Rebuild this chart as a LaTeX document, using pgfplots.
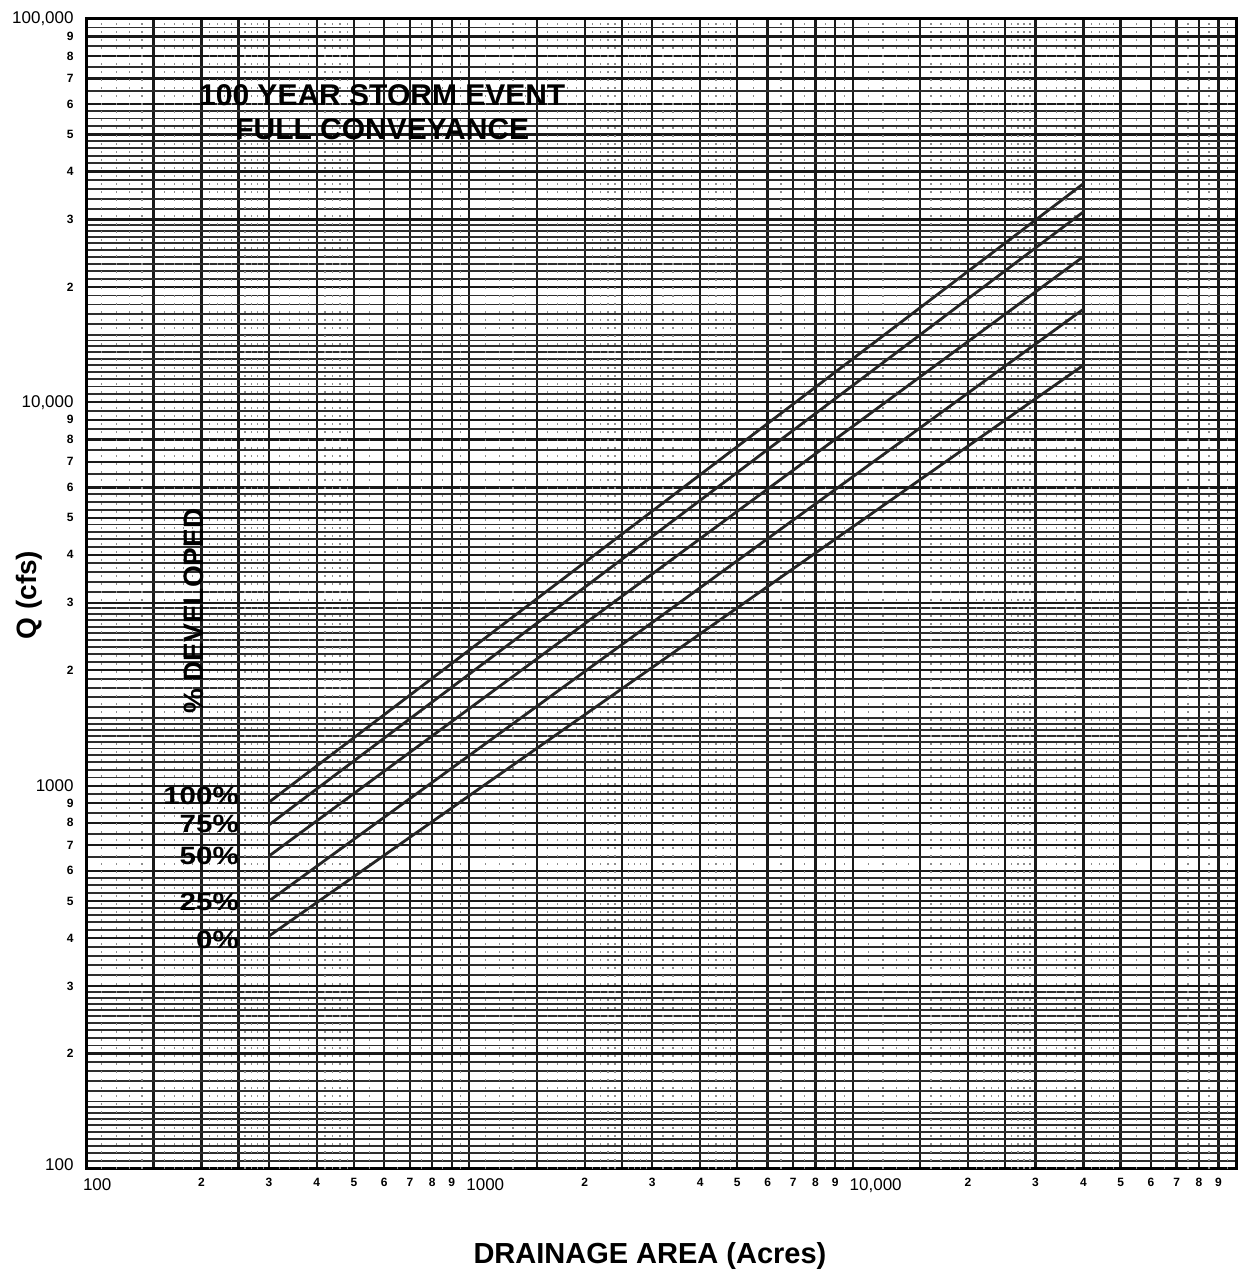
\documentclass[border=0pt]{standalone}
\usepackage{fontspec}
\setmainfont{Liberation Sans}
\usepackage{graphicx}
\usepackage{pgfplots}
\pgfplotsset{compat=1.18}
\newcommand{\bx}[1]{\makebox[0pt][l]{\hspace{-1.5pt}\mdseries\fontsize{8.5}{10}\selectfont #1}}
\newcommand{\by}[1]{{\mdseries\fontsize{8.5}{10}\selectfont #1}}
\newcommand{\pct}[1]{\scalebox{1.18}[1]{\bfseries\fontsize{12.5}{14}\selectfont #1}}
\begin{document}
\begin{tikzpicture}
\useasboundingbox (-43pt,-50.5pt) rectangle (576.5pt,584.5pt);
\begin{axis}[
  at={(0,0)}, anchor=south west,
  scale only axis, width=575pt, height=575pt,
  xmode=log, ymode=log,
  xmin=100, xmax=100000, ymin=100, ymax=100000,
  axis line style={line width=1.5pt, black},
  major tick length=0pt, minor tick length=0pt,
  xtick={100,150,200,250,300,400,500,600,700,800,900,
         1000,1500,2000,2500,3000,4000,5000,6000,7000,8000,9000,
         10000,15000,20000,25000,30000,40000,50000,60000,70000,80000,90000},
  xticklabels={{\bx{100}},{},2,{},3,4,5,6,7,8,9,
               {\bx{1000}},{},2,{},3,4,5,6,7,8,9,
               {\bx{10,000}},{},2,{},3,4,5,6,7,8,9},
  ytick={100,200,300,400,500,600,700,800,900,
         1000,2000,3000,4000,5000,6000,7000,8000,9000,
         10000,20000,30000,40000,50000,60000,70000,80000,90000,100000},
  yticklabels={{\by{\raisebox{4pt}{100}}},2,3,4,5,6,7,8,9,
               {\by{1000}},2,3,4,5,6,7,8,9,
               {\by{10,000}},2,3,4,5,6,7,8,9,
               {\by{100,000}}},
  minor xtick={},
  minor ytick={105,110,115,120,125,130,135,140,145,150,160,170,180,190,210,220,230,240,250,260,270,280,290,320,340,360,380,420,440,460,480,525,550,575,650,750,850,950,
   1050,1100,1150,1200,1250,1300,1350,1400,1450,1500,1600,1700,1800,1900,2100,2200,2300,2400,2500,2600,2700,2800,2900,3200,3400,3600,3800,4200,4400,4600,4800,5250,5500,5750,6500,7500,8500,9500,
   10500,11000,11500,12000,12500,13000,13500,14000,14500,15000,16000,17000,18000,19000,21000,22000,23000,24000,25000,26000,27000,28000,29000,32000,34000,36000,38000,42000,44000,46000,48000,52500,55000,57500,65000,75000,85000,95000},
  xmajorgrids=true, ymajorgrids=true, yminorgrids=true, xminorgrids=false,
  major grid style={line width=1.15pt, black!90},
  minor grid style={line width=0.95pt, black!82},
  extra x ticks={110,120,130,140,160,170,180,190,210,220,230,240,260,270,280,290,320,340,360,380,420,440,460,480,550,650,750,850,950,
   1100,1200,1300,1400,1600,1700,1800,1900,2100,2200,2300,2400,2600,2700,2800,2900,3200,3400,3600,3800,4200,4400,4600,4800,5500,6500,7500,8500,9500,
   11000,12000,13000,14000,16000,17000,18000,19000,21000,22000,23000,24000,26000,27000,28000,29000,32000,34000,36000,38000,42000,44000,46000,48000,55000,65000,75000,85000,95000},
  extra x tick labels={},
  extra x tick style={grid=major, major grid style={line width=0.6pt, black!45, dash pattern=on 1.2pt off 2.8pt}},
  xticklabel style={font=\bfseries\fontsize{6}{7}\selectfont, anchor=north, inner sep=0pt, yshift=-4.5pt},
  yticklabel style={font=\bfseries\fontsize{6}{7}\selectfont, anchor=east, inner sep=0pt, xshift=-6pt},
  axis on top=false,
]
\addplot[line width=1.4pt, black!85] coordinates {(300,905) (40000,37200)};
\addplot[line width=1.4pt, black!85] coordinates {(300,790) (40000,31400)};
\addplot[line width=1.4pt, black!85] coordinates {(300,655) (40000,24000)};
\addplot[line width=1.4pt, black!85] coordinates {(300,500) (40000,17500)};
\addplot[line width=1.4pt, black!85] coordinates {(300,405) (40000,12500)};

\node[font=\bfseries\fontsize{15}{17}\selectfont] at (rel axis cs:0.2576,0.934) {100 YEAR STORM EVENT};
\node[font=\bfseries\fontsize{15}{17}\selectfont] at (rel axis cs:0.2576,0.904) {FULL CONVEYANCE};
\node[font=\bfseries\fontsize{14}{16}\selectfont, rotate=90] at (rel axis cs:0.094,0.485) {\% DEVELOPED};
\node[anchor=east, inner sep=0pt] at (rel axis cs:0.1332,0.3243) {\pct{100\%}};
\node[anchor=east, inner sep=0pt] at (rel axis cs:0.1332,0.3000) {\pct{75\%}};
\node[anchor=east, inner sep=0pt] at (rel axis cs:0.1332,0.2722) {\pct{50\%}};
\node[anchor=east, inner sep=0pt] at (rel axis cs:0.1332,0.2322) {\pct{25\%}};
\node[anchor=east, inner sep=0pt] at (rel axis cs:0.1332,0.1991) {\pct{0\%}};
\end{axis}
\node[font=\bfseries\fontsize{14}{16}\selectfont, rotate=90] at (-28.5pt,287pt) {Q (cfs)};
\node[font=\bfseries\fontsize{14.5}{16}\selectfont] at (282pt,-43.5pt) {DRAINAGE AREA (Acres)};
\end{tikzpicture}
\end{document}
